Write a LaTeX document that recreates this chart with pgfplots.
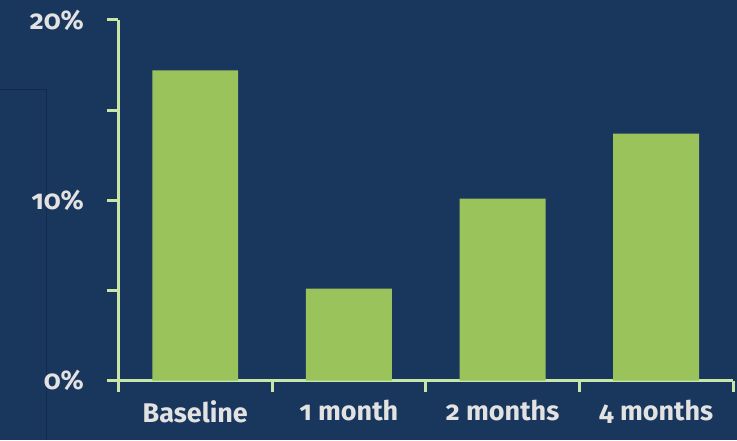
\documentclass[border=0pt]{standalone}
\usepackage{pgfplots}
\pgfplotsset{compat=1.18}
\usepackage{fontspec}
\setmainfont{Fira Sans}[Numbers=OldStyle]
\definecolor{bg}{HTML}{19365D}
\definecolor{barc}{HTML}{9BC35C}
\definecolor{axl}{HTML}{C8E6A8}
\definecolor{txt}{HTML}{E2E2E2}
\definecolor{framec}{HTML}{112B4C}
\begin{document}
\begin{tikzpicture}[x=1pt,y=1pt]
\fill[bg] (0,0) rectangle (737,440);
\draw[framec, line width=1pt] (0,350) -- (46,350) -- (46,0);
\begin{axis}[
  at={(118pt,59pt)}, anchor=south west,
  scale only axis, width=615pt, height=361pt,
  xmin=-0.5, xmax=3.5, ymin=0, ymax=20,
  axis lines*=left,
  axis line style={axl, line width=3pt},
  tick align=outside,
  major tick length=11pt, minor tick length=11pt,
  every tick/.style={axl, line width=3pt},
  xtick={0,1,2,3},
  xticklabels={Baseline,1 month,2 months,4 months},
  every major x tick/.style={draw=none},
  minor xtick={-0.5,0.5,1.5,2.5,3.5},
  ytick={0,10,20},
  yticklabels={0\%,10\%,20\%},
  minor ytick={5,15},
  /pgf/number format/assume math mode=true,
  ticklabel style={font=\fontsize{27}{30}\selectfont\bfseries, text=txt},
  xticklabel style={yshift=-5pt},
  yticklabel style={xshift=-20pt},
]
\addplot[ybar, fill=barc, draw=none, bar width=86pt] coordinates {(0,17.2) (1,5.1) (2,10.1) (3,13.7)};
\end{axis}
\end{tikzpicture}
\end{document}
